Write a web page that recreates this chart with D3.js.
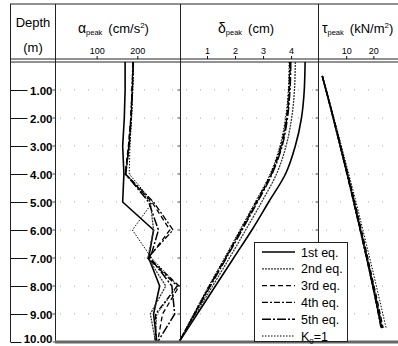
<!DOCTYPE html>
<html><head><meta charset="utf-8">
<script src="https://cdn.jsdelivr.net/npm/d3@7"></script>
<style>body{margin:0;background:#fff}svg{display:block;font-family:"Liberation Sans",Arial,sans-serif}</style>
</head><body><svg id="c" width="398" height="346"></svg>
<script>
// ---- data ----
const seriesNames = ["1st eq.", "2nd eq.", "3rd eq.", "4th eq.", "5th eq.", "K0=1"];
const depthTicks = [1,2,3,4,5,6,7,8,9,10];
const alphaTicks = [100, 200];
const deltaTicks = [1, 2, 3, 4];
const tauTicks = [10, 20];

const alphaDepths = [0,1,2,3,4,5,6,7,8,9,10];
const alpha1 = [170,170,168,164,167,164,240,228,255,240,248];
const alpha2 = [190,188,185,180,172,232,240,226,270,232,245];
const alpha3 = [190,187,184,178,170,236,280,228,303,262,250];
const alpha4 = [189,187,184,179,171,240,288,225,298,245,246];
const alpha5 = [190,188,185,180,171,228,252,232,285,292,250];
const alphaK = [191,189,186,182,180,238,188,235,300,248,242];

const deltaDepths = [0,1,2,3,4,5,6,7,8,9,10];
const delta1 = [4.50,4.47,4.37,4.15,3.80,3.20,2.60,1.95,1.30,0.65,0];
const delta2 = [4.15,4.12,4.02,3.82,3.48,2.95,2.38,1.80,1.20,0.60,0];
const delta3 = [3.97,3.94,3.85,3.66,3.30,2.78,2.22,1.67,1.10,0.55,0];
const delta4 = [3.95,3.92,3.83,3.63,3.28,2.75,2.20,1.65,1.08,0.54,0];
const delta5 = [3.99,3.96,3.87,3.68,3.32,2.80,2.25,1.69,1.12,0.56,0];
const deltaK = [3.93,3.90,3.80,3.60,3.25,2.72,2.17,1.62,1.06,0.52,0];

const tauDepths = [0.5,1.5,2.5,3.5,4.5,5.5,6.5,7.5,8.5,9.5];
const tau1 = [1.2,3.9,6.5,9.1,11.6,14.0,16.4,18.7,20.9,23.0];
const tau2 = [1.2,3.9,6.6,9.2,11.8,14.2,16.6,18.9,21.2,23.3];
const tau3 = [1.2,4.0,6.7,9.3,11.9,14.4,16.8,19.1,21.4,23.6];
const tau4 = [1.2,3.9,6.5,9.0,11.5,13.9,16.3,18.6,20.8,22.8];
const tau5 = [1.2,4.0,6.6,9.2,11.7,14.1,16.5,18.8,21.0,23.2];
const tauK = [1.3,4.1,6.9,9.6,12.3,14.9,17.4,19.9,22.3,24.7];

// ---- styles ----
const styles = [
  {w:1.6, dash:null, c:"#000"},
  {w:1.3, dash:"2,1", c:"#333"},
  {w:1.3, dash:"5,3", c:"#000"},
  {w:1.3, dash:"6,2,2,2", c:"#000"},
  {w:1.5, dash:"9,2,2,2", c:"#000"},
  {w:1.0, dash:"1.5,1.5", c:"#000"}
];

const svg = d3.select("#c");
const y = d3.scaleLinear().domain([0,10]).range([62,342]);
const xA = d3.scaleLinear().domain([0,305]).range([56,180]);
const xD = d3.scaleLinear().domain([0,4.96]).range([179,318]);
const xT = d3.scaleLinear().domain([0,28.7]).range([319,397]);

// grid dots
const grid = svg.append("g");
depthTicks.forEach(d => {
  grid.append("line").attr("x1",60).attr("x2",396).attr("y1",y(d)).attr("y2",y(d))
    .attr("stroke","#aaa").attr("stroke-width",1).attr("stroke-dasharray","1,13");
});

// frame lines
const fr = svg.append("g").attr("stroke","#222").attr("stroke-width",1).attr("fill","none");
fr.append("line").attr("x1",10).attr("x2",398).attr("y1",4).attr("y2",4);
fr.append("line").attr("x1",10).attr("x2",398).attr("y1",59).attr("y2",59);
fr.append("line").attr("x1",10).attr("x2",398).attr("y1",62).attr("y2",62);
[10.5,55.5,180.5,318.5].forEach(x => fr.append("line").attr("x1",x).attr("x2",x).attr("y1",4).attr("y2",342));

// small ticks on separators
[55.5,180.5,318.5].forEach(x => {
  depthTicks.forEach(d => {
    svg.append("line").attr("x1",x-3).attr("x2",x).attr("y1",y(d)).attr("y2",y(d)).attr("stroke","#444");
  });
});

// depth axis
const dAx = svg.append("g").attr("transform","translate(10.5,0)")
  .call(d3.axisRight(y).tickValues(depthTicks).tickSize(17).tickFormat(d3.format(".2f")));
dAx.select(".domain").remove();
dAx.selectAll(".tick line").attr("stroke","#111").attr("x2", d => d>=10 ? 11 : 17);
dAx.selectAll(".tick text").attr("x",42).attr("text-anchor","end").attr("font-size",11.5)
  .attr("font-weight","bold")
  .attr("font-family","Liberation Sans, Arial").attr("fill","#000")
  .attr("dy", d => d>=10 ? "0.05em" : "0.35em");

// top axes
function topAxis(scale, ticks) {
  const g = svg.append("g").attr("transform","translate(0,59)")
    .call(d3.axisTop(scale).tickValues(ticks).tickSize(3).tickPadding(2).tickFormat(d3.format("d")));
  g.select(".domain").remove();
  g.selectAll(".tick line").attr("stroke","#111");
  g.selectAll(".tick text").attr("font-size",9).attr("fill","#000").attr("font-family","Liberation Sans, Arial");
}
topAxis(xA, alphaTicks);
topAxis(xD, deltaTicks);
topAxis(xT, tauTicks);

// header texts
const ht = svg.append("g").attr("fill","#000").attr("font-size",13);
ht.append("text").attr("x",33).attr("y",27).attr("text-anchor","middle").text("Depth");
ht.append("text").attr("x",33).attr("y",52).attr("text-anchor","middle").text("(m)");
function header(x, sym, unit, sup) {
  const t = ht.append("text").attr("x",x).attr("y",33);
  t.append("tspan").attr("font-size",14).text(sym);
  t.append("tspan").attr("font-size",7.5).attr("dy",2).text("peak");
  t.append("tspan").attr("dy",-2).attr("dx",6).attr("font-size",13).text(unit);
  if (sup) {
    t.append("tspan").attr("font-size",8).attr("dy",-5).text(sup);
    t.append("tspan").attr("font-size",13).attr("dy",5).text(")");
  }
}
header(78, "α", "(cm/s", "2");
header(218, "δ", "(cm)", null);
header(322, "τ", "(kN/m", "2");

// lines
const alphaSeries = [alpha1,alpha2,alpha3,alpha4,alpha5,alphaK];
const deltaSeries = [delta1,delta2,delta3,delta4,delta5,deltaK];
const tauSeries = [tau1,tau2,tau3,tau4,tau5,tauK];
function draw(series, depths, xs, curve) {
  const line = d3.line().x(d => xs(d[0])).y(d => y(d[1])).curve(curve);
  series.forEach((vals, i) => {
    const s = styles[i];
    svg.append("path").datum(vals.map((v,j) => [v, depths[j]]))
      .attr("d", line).attr("fill","none").attr("stroke",s.c).attr("stroke-width",s.w)
      .attr("stroke-dasharray", s.dash);
  });
}
draw(alphaSeries, alphaDepths, xA, d3.curveLinear);
draw(deltaSeries, deltaDepths, xD, d3.curveMonotoneY);
draw(tauSeries, tauDepths, xT, d3.curveMonotoneY);

// bottom thick line
svg.append("line").attr("x1",55).attr("x2",398).attr("y1",342).attr("y2",342)
  .attr("stroke","#666").attr("stroke-width",3);

// legend
const lg = svg.append("g");
lg.append("rect").attr("x",254.5).attr("y",242.5).attr("width",93).attr("height",99)
  .attr("fill","#fff").attr("stroke","#222").attr("stroke-width",1);
seriesNames.forEach((n,i) => {
  const yy = 252 + i*16.8;
  const s = styles[i];
  lg.append("line").attr("x1",262).attr("x2",295).attr("y1",yy).attr("y2",yy)
    .attr("stroke",s.c).attr("stroke-width",s.w).attr("stroke-dasharray",s.dash);
  const t = lg.append("text").attr("x",301).attr("y",yy+4.5).attr("font-size",12.5).attr("fill","#000");
  if (n === "K0=1") {
    t.append("tspan").text("K");
    t.append("tspan").attr("font-size",8).attr("dy",3).text("0");
    t.append("tspan").attr("dy",-3).text("=1");
  } else t.text(n);
});
</script></body></html>
